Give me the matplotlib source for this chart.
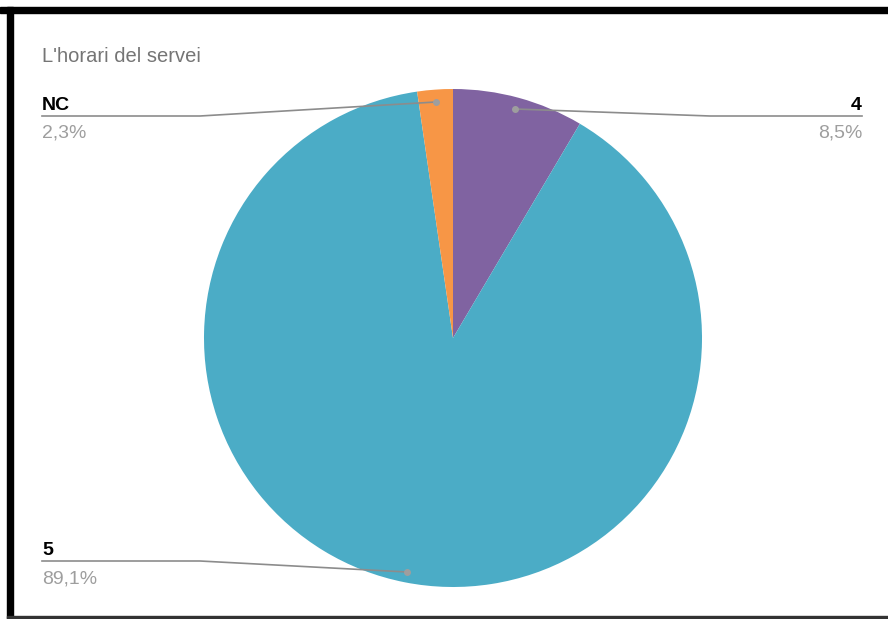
import matplotlib
matplotlib.use("Agg")
import matplotlib.pyplot as plt
from matplotlib.patches import Rectangle

# slices, clockwise from the top
labels = ["4", "5", "NC"]
values = [8.5, 89.1, 2.3]
pct_text = ["8,5%", "89,1%", "2,3%"]
colors = ["#8063a1", "#4bacc6", "#f79646"]

W, H = 888, 619
fig = plt.figure(figsize=(W / 100, H / 100), dpi=100)
ax = fig.add_axes([0, 0, 1, 1])

cx, cy, r = 453, 338, 249
# y axis is inverted, so counterclock=True draws clockwise on screen; start at top
ax.pie(values, colors=colors, startangle=-90, counterclock=True,
       center=(cx, cy), radius=r, frame=True,
       wedgeprops=dict(linewidth=0))
ax.set_xlim(0, W)
ax.set_ylim(H, 0)
ax.set_aspect("equal")
ax.axis("off")

grey_line = "#8c8c8c"
# leader lines: (label x end, bend x, line y, dot x, dot y, align)
leaders = {
    "4": (862, 710, 116, 515, 109, "right"),
    "5": (42, 200, 561, 407, 572, "left"),
    "NC": (42, 200, 116, 436, 102, "left"),
}
for lab, pct in zip(labels, pct_text):
    x0, xb, ly, dx, dy, ha = leaders[lab]
    ax.plot([x0, xb, dx], [ly, ly, dy], color=grey_line, lw=1.2, zorder=5)
    ax.plot(dx, dy, "o", color="#9e9e9e", ms=4, zorder=6)
    ax.text(x0, ly - 6, lab, ha=ha, va="baseline", fontsize=14,
            fontweight="bold", color="black", family="Liberation Sans")
    ax.text(x0, ly + 22, pct, ha=ha, va="baseline", fontsize=14,
            color="#9e9e9e", family="Liberation Sans")

ax.text(42, 62, "L'horari del servei", ha="left", va="baseline", fontsize=14.5,
        color="#757575", family="Liberation Sans")

# black frame of the screenshot
ax.add_patch(Rectangle((0, 7), W, 6, color="black", zorder=10))
ax.add_patch(Rectangle((7, 7), 6, H, color="black", zorder=10))
ax.add_patch(Rectangle((7, 616), W, 2, color="#333333", zorder=10))

fig.savefig("out.png", dpi=100)
